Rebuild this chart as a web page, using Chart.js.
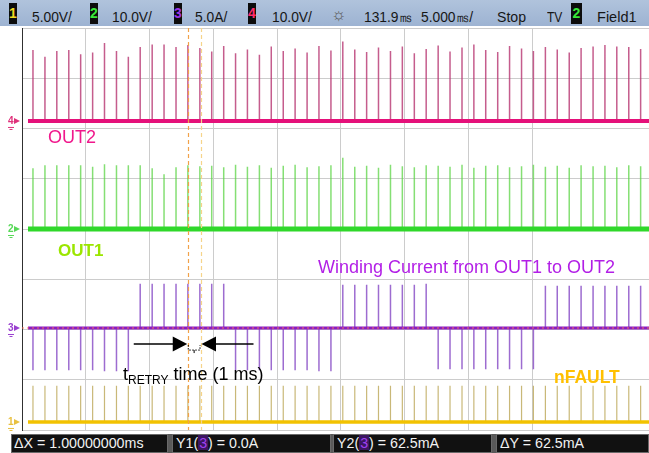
<!DOCTYPE html>
<html><head><meta charset="utf-8">
<script src="https://cdn.jsdelivr.net/npm/chart.js@4.4.1/dist/chart.umd.min.js"></script>
<style>
html,body{margin:0;padding:0;background:#fff;overflow:hidden;}
#wrap{position:relative;width:649px;height:453px;overflow:hidden;}
#c{position:absolute;left:0;top:0;}
.t{position:absolute;white-space:nowrap;line-height:1;font-family:"Liberation Sans",Arial,sans-serif;}
#topbar{position:absolute;left:0;top:0;width:649px;height:26px;background:linear-gradient(#b0c3dc,#9db3d2);}
.bx{position:absolute;top:3px;height:21px;width:8px;background:#0c0c0c;font:bold 14px "Liberation Sans",Arial,sans-serif;line-height:21px;text-align:center;}
.tb{position:absolute;top:9px;font-size:15px;color:#161616;transform:scaleX(0.92);transform-origin:0 0;}
#botbar{position:absolute;left:11px;top:434px;width:638px;height:19px;background:#5a5a5a;}
.bb{position:absolute;top:434px;height:19px;background:#111;border:1px solid #6a6a6a;box-sizing:border-box;}
.bt{position:absolute;top:435px;font-size:15px;color:#f2f2f2;transform:scaleX(0.95);transform-origin:0 0;}
.pb{display:inline-block;background:#3b1660;color:#a040f0;padding:0 1px;}
</style></head>
<body>
<div id="wrap">
<canvas id="c" width="649" height="453"></canvas>

<div id="topbar"></div>
<div class="bx" style="left:9px;color:#f0d820">1</div>
<div class="t tb" style="left:32px">5.00V/</div>
<div class="bx" style="left:90px;color:#38e838">2</div>
<div class="t tb" style="left:112px">10.0V/</div>
<div class="bx" style="left:174px;color:#9a34e6">3</div>
<div class="t tb" style="left:195px">5.0A/</div>
<div class="bx" style="left:248px;color:#ff2a6a">4</div>
<div class="t tb" style="left:272px">10.0V/</div>
<div class="t tb" style="left:331px;top:6px;font-size:17px;color:#5a5a5a;transform:none">☼</div>
<div class="t tb" style="left:364px">131.9㎳</div>
<div class="t tb" style="left:421px">5.000㎳/</div>
<div class="t tb" style="left:497px;transform:scaleX(0.94)">Stop</div>
<div class="t tb" style="left:547px;transform:scaleX(0.8)">TV</div>
<div class="bx" style="left:571px;width:11px;color:#38e838">2</div>
<div class="t tb" style="left:597px;transform:scaleX(0.97)">Field1</div>

<div id="botbar"></div>
<div class="bb" style="left:11px;width:157px"></div>
<div class="bb" style="left:172px;width:159px"></div>
<div class="bb" style="left:333px;width:159px"></div>
<div class="bb" style="left:496px;width:153px"></div>
<div class="t bt" style="left:14px">ΔX = 1.00000000ms</div>
<div class="t bt" style="left:176px">Y1(<span class="pb">3</span>) = 0.0A</div>
<div class="t bt" style="left:337px">Y2(<span class="pb">3</span>) = 62.5mA</div>
<div class="t bt" style="left:500px">ΔY = 62.5mA</div>

<div class="t" style="left:48px;top:128px;font-size:18px;color:#f0188c">OUT2</div>
<div class="t" style="left:58px;top:241.6px;font-size:17px;font-weight:bold;color:#9be600">OUT1</div>
<div class="t" style="left:318px;top:258px;font-size:18px;color:#b21fe6">Winding Current from OUT1 to OUT2</div>
<div class="t" style="left:554px;top:368.7px;font-size:17.5px;font-weight:bold;color:#ffc000">nFAULT</div>
<div class="t" style="left:123px;top:364.8px;font-size:18px;color:#000">t<span style="font-size:12px;position:relative;top:4px">RETRY</span> time (1 ms)</div>
</div>

<script>
// ---- data (time in ms, values in physical units) ----
const pulseTimes = [0.86, 1.80, 2.73, 3.67, 4.60, 5.54, 6.47, 7.41, 8.34, 9.27, 10.21, 11.14, 12.08, 13.01, 13.95, 14.88, 15.82, 16.75, 17.68, 18.62, 19.55, 20.49, 21.42, 22.36, 23.29, 24.23, 25.16, 26.10, 27.03, 27.96, 28.90, 29.83, 30.77, 31.70, 32.64, 33.57, 34.51, 35.44, 36.37, 37.31, 38.24, 39.18, 40.11, 41.05, 41.98, 42.92, 43.85, 44.79, 45.72, 46.65, 47.59, 48.52];
const out2PeaksV = [14.1, 12.8, 13.9, 14.1, 13.3, 13.6, 15.5, 13.9, 12.8, 14.7, 15.2, 15.2, 14.7, 15.1, 14.5, 13.8, 14.9, 13.5, 14.2, 13.2, 14.8, 13.9, 14.4, 13.6, 14.9, 14.0, 15.8, 14.2, 13.7, 14.6, 13.9, 14.8, 13.5, 14.3, 15.0, 13.8, 14.6, 15.2, 14.1, 13.7, 14.9, 14.4, 13.9, 14.7, 14.2, 13.6, 14.5, 14.8, 15.1, 14.8, 14.7, 14.3];
const out1PeaksV = [12.1, 12.7, 12.7, 12.7, 12.7, 12.4, 12.9, 12.7, 12.7, 12.7, 12.1, 10.9, 12.3, 12.7, 12.5, 12.6, 12.3, 12.8, 12.4, 12.7, 12.2, 12.6, 12.8, 12.3, 12.5, 12.7, 14.2, 12.4, 12.6, 12.2, 12.8, 12.5, 12.3, 12.7, 12.6, 12.4, 12.8, 12.2, 12.6, 12.7, 12.3, 12.5, 12.8, 12.4, 12.6, 12.2, 12.7, 12.5, 12.6, 12.3, 12.7, 12.5];
const windingPeaksA = [-4.2, -4.2, -4.2, -4.2, -4.2, -4.2, -4.3, -4.3, -4.3, 4.4, 4.4, 4.4, 4.4, 4.4, 4.4, 4.4, 4.4, -4.2, -4.2, -4.2, -4.2, -4.2, -4.2, -4.2, -4.3, -4.3, 4.3, 4.3, 4.3, 4.3, 4.3, 4.3, 4.3, 4.4, -4.1, -4.1, -4.1, -4.1, -4.1, -4.1, -4.1, -4.1, -4.1, 4.2, 4.2, 4.2, 4.2, 4.2, 4.2, 4.2, 4.2, 4.2];
const nFaultPeaksV = [3.6, 3.6, 3.6, 3.6, 3.6, 3.6, 3.6, 3.6, 3.6, 3.6, 3.6, 3.6, 3.6, 3.6, 3.6, 3.6, 3.6, 3.6, 3.6, 3.6, 3.6, 3.6, 3.6, 3.6, 3.6, 3.6, 3.6, 3.6, 3.6, 3.6, 3.6, 3.6, 3.6, 3.6, 3.6, 3.6, 3.6, 3.6, 3.6, 3.6, 3.6, 3.6, 3.6, 3.6, 3.6, 3.6, 3.6, 3.6, 3.6, 3.6, 3.6, 3.6];
const traceSpan = [0.47, 49.18];      // ms
const cursorTimes = [13.0, 14.0];     // ms (ΔX = 1 ms)
const channelNames = ['1', '2', '3', '4'];

// ---- channel setup (vertical position in divisions, units per division) ----
const ch = {
  '4': {offset: 2.15, perDiv: 10, base: '#e5107a', spike: 'rgba(182,52,112,0.8)', bw: 4, mark: '#e0307a'},
  '2': {offset: 0.0, perDiv: 10, base: '#2fd82a', spike: 'rgba(92,212,70,0.75)', bw: 5, mark: '#58d858'},
  '3': {offset: -1.97, perDiv: 5, base: '#8a1cc2', spike: 'rgba(140,82,200,0.85)', bw: 3, mark: '#9a40d0'},
  '1': {offset: -3.84, perDiv: 5, base: '#f2c200', spike: 'rgba(188,166,86,0.8)', bw: 3.5, mark: '#e8c040'}
};

function spikes(times, peaks, c) {
  const pts = [];
  times.forEach((t, i) => {
    pts.push({x: t, y: c.offset});
    pts.push({x: t, y: c.offset + peaks[i] / c.perDiv});
    pts.push({x: t, y: null});
  });
  return pts;
}
function baseline(c) {
  return traceSpan.map(t => ({x: t, y: c.offset}));
}
const seriesDefs = [
  ['4', out2PeaksV], ['2', out1PeaksV], ['3', windingPeaksA], ['1', nFaultPeaksV]
];
const datasets = [];
seriesDefs.forEach(([k]) => {
  const c = ch[k];
  datasets.push({data: baseline(c), borderColor: c.base, borderWidth: c.bw, order: 1});
});
seriesDefs.forEach(([k, peaks]) => {
  const c = ch[k];
  datasets.push({data: spikes(pulseTimes, peaks, c), borderColor: c.spike, borderWidth: k === '1' ? 1.2 : 1.5, order: 2});
});

const overlay = {
  id: 'overlay',
  afterDatasetsDraw(chart) {
    const {ctx, chartArea: a, scales: {x, y}} = chart;
    ctx.save();
    ctx.setLineDash([2, 3]);
    ctx.strokeStyle = 'rgba(255,120,90,0.9)';
    ctx.lineWidth = 1;
    const y3 = y.getPixelForValue(ch['3'].offset);
    ctx.beginPath(); ctx.moveTo(a.left, y3); ctx.lineTo(a.right, y3); ctx.stroke();
    ctx.setLineDash([4, 3]);
    ctx.lineWidth = 1.2;
    ctx.strokeStyle = '#f2a24a';
    let px = Math.round(x.getPixelForValue(cursorTimes[0])) + 0.5;
    ctx.beginPath(); ctx.moveTo(px, a.top); ctx.lineTo(px, a.bottom); ctx.stroke();
    ctx.strokeStyle = '#f6d48a';
    px = Math.round(x.getPixelForValue(cursorTimes[1])) + 0.5;
    ctx.beginPath(); ctx.moveTo(px, a.top); ctx.lineTo(px, a.bottom); ctx.stroke();
    ctx.setLineDash([]);
    const x1 = x.getPixelForValue(cursorTimes[0]);
    const x2 = x.getPixelForValue(cursorTimes[1]);
    const ya = y.getPixelForValue(ch['3'].offset - 0.32);
    ctx.fillStyle = '#000'; ctx.strokeStyle = '#000'; ctx.lineWidth = 1.5;
    ctx.beginPath(); ctx.moveTo(x1 - 54, ya); ctx.lineTo(x1 - 14, ya); ctx.stroke();
    ctx.beginPath(); ctx.moveTo(x1 - 0.5, ya); ctx.lineTo(x1 - 15, ya - 7.5); ctx.lineTo(x1 - 15, ya + 7.5); ctx.closePath(); ctx.fill();
    ctx.beginPath(); ctx.moveTo(x2 + 1, ya); ctx.lineTo(x2 + 15.5, ya - 7.5); ctx.lineTo(x2 + 15.5, ya + 7.5); ctx.closePath(); ctx.fill();
    ctx.beginPath(); ctx.moveTo(x2 + 14, ya); ctx.lineTo(x2 + 53, ya); ctx.stroke();
    ctx.lineWidth = 1; ctx.setLineDash([1.5, 1.5]);
    ctx.beginPath(); ctx.moveTo(x1 + 0.5, ya + 1); ctx.lineTo(x1 + 0.5, ya + 6); ctx.lineTo(x2 - 0.5, ya + 6); ctx.lineTo(x2 - 0.5, ya + 1); ctx.stroke();
    ctx.setLineDash([]);
    ctx.beginPath(); ctx.moveTo((x1 + x2) / 2, ya + 6); ctx.lineTo((x1 + x2) / 2, ya + 9); ctx.stroke();
    channelNames.forEach(k => {
      const c = ch[k];
      const yy = y.getPixelForValue(c.offset);
      ctx.fillStyle = c.mark; ctx.strokeStyle = c.mark;
      ctx.font = 'bold 10px "Liberation Sans", Arial, sans-serif';
      ctx.textBaseline = 'middle'; ctx.textAlign = 'left';
      ctx.fillText(k, 8, yy);
      ctx.beginPath(); ctx.moveTo(14, yy - 3); ctx.lineTo(20, yy); ctx.lineTo(14, yy + 3); ctx.closePath(); ctx.fill();
      ctx.lineWidth = 1;
      ctx.beginPath(); ctx.moveTo(8, yy + 6.5); ctx.lineTo(14, yy + 6.5); ctx.moveTo(9.5, yy + 8.5); ctx.lineTo(12.5, yy + 8.5); ctx.stroke();
    });
    ctx.restore();
  }
};

new Chart(document.getElementById('c'), {
  type: 'line',
  data: {datasets},
  options: {
    responsive: false, animation: false, devicePixelRatio: 1,
    layout: {padding: {left: 22, right: 0, top: 28, bottom: 23}},
    elements: {point: {radius: 0}, line: {tension: 0}},
    plugins: {legend: {display: false}, tooltip: {enabled: false}},
    scales: {
      x: {type: 'linear', min: 0, max: 49.176,
          ticks: {display: false, stepSize: 5}, grid: {color: '#cccccc', lineWidth: 1, drawTicks: false},
          border: {display: false}, afterFit: s => { s.height = 0; }},
      y: {type: 'linear', min: -4, max: 4,
          ticks: {display: false, stepSize: 1}, grid: {color: '#cccccc', lineWidth: 1, drawTicks: false},
          border: {display: true, color: '#303030', width: 1}, afterFit: s => { s.width = 0; }}
    }
  },
  plugins: [overlay]
});
</script>
</body></html>
